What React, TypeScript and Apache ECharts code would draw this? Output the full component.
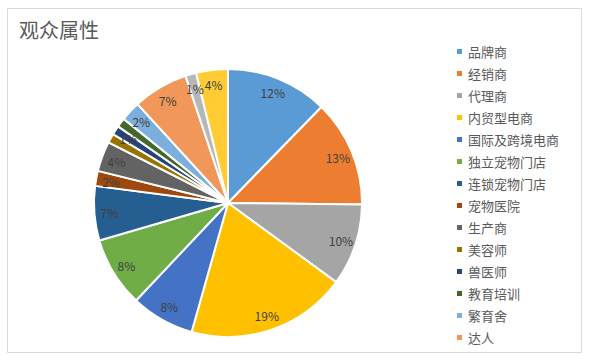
import React, { useEffect, useRef } from "react";
import * as echarts from "echarts";

const title = "观众属性";
const categories = [
  "品牌商", "经销商", "代理商", "内贸型电商", "国际及跨境电商", "独立宠物门店", "连锁宠物门店",
  "宠物医院", "生产商", "美容师", "兽医师", "教育培训", "繁育舍", "达人", "其他A", "其他B",
];
const legendNames = categories.slice(0, 14);
const values = [12.2, 12.8, 9.8, 19.2, 7.6, 8.4, 6.5, 1.8, 3.6, 1.1, 1.1, 1.1, 2.4, 6.6, 1.3, 3.8];
const colors = [
  "#5B9BD5", "#ED7D31", "#A5A5A5", "#FFC000", "#4472C4", "#70AD47", "#255E91",
  "#9E480E", "#636363", "#997300", "#264478", "#43682B", "#7CAFDD", "#F1975A", "#B7B7B7", "#FFCD33",
];

const FONT = "'Noto Sans CJK SC', 'Noto Sans', sans-serif";

export default function App() {
  const ref = useRef<HTMLDivElement>(null);
  useEffect(() => {
    if (!ref.current) return;
    const chart = echarts.init(ref.current, null, { renderer: "svg" });
    const data = categories.map((name, i) => ({ name, value: values[i], itemStyle: { color: colors[i] } }));
    const total = values.reduce((a, b) => a + b, 0);
    chart.setOption({
      animation: false,
      backgroundColor: "#ffffff",
      color: colors,
      title: {
        text: title,
        left: 14,
        top: 14,
        textStyle: { fontFamily: FONT, fontSize: 20, fontWeight: "normal", color: "#595959" },
      },
      legend: {
        data: legendNames,
        orient: "vertical",
        left: 450,
        top: 40,
        itemWidth: 7,
        itemHeight: 7,
        itemGap: 9,
        icon: "rect",
        textStyle: { fontFamily: FONT, fontSize: 13, color: "#595959", padding: [0, 0, 0, 0] },
      },
      graphic: [
        {
          type: "rect",
          shape: { x: 7.5, y: 8.5, width: 574, height: 344 },
          style: { fill: "none", stroke: "#D9D9D9", lineWidth: 1 },
          silent: true,
        },
      ],
      series: [
        {
          type: "pie",
          center: [228, 203],
          radius: [0, 134],
          startAngle: 90,
          clockwise: true,
          avoidLabelOverlap: false,
          label: { show: false },
          labelLine: { show: false },
          itemStyle: { borderColor: "#ffffff", borderWidth: 2 },
          emphasis: { disabled: true },
          data,
        },
        {
          type: "pie",
          center: [228, 203],
          radius: [98, 134],
          startAngle: 90,
          clockwise: true,
          silent: true,
          avoidLabelOverlap: false,
          legendHoverLink: false,
          itemStyle: { color: "rgba(0,0,0,0)", borderWidth: 0 },
          label: {
            show: true,
            position: "inside",
            fontFamily: FONT,
            fontSize: 12,
            color: "#404040",
            formatter: (p: any) => Math.round((p.value / total) * 100) + "%",
          },
          labelLine: { show: false },
          emphasis: { disabled: true },
          data: categories.map((name, i) => ({ name: name + " ", value: values[i] })),
        },
      ],
    });
    return () => chart.dispose();
  }, []);
  return (
    <div
      ref={ref}
      style={{ position: "fixed", left: 0, top: 0, width: 592, height: 360 }}
    />
  );
}
